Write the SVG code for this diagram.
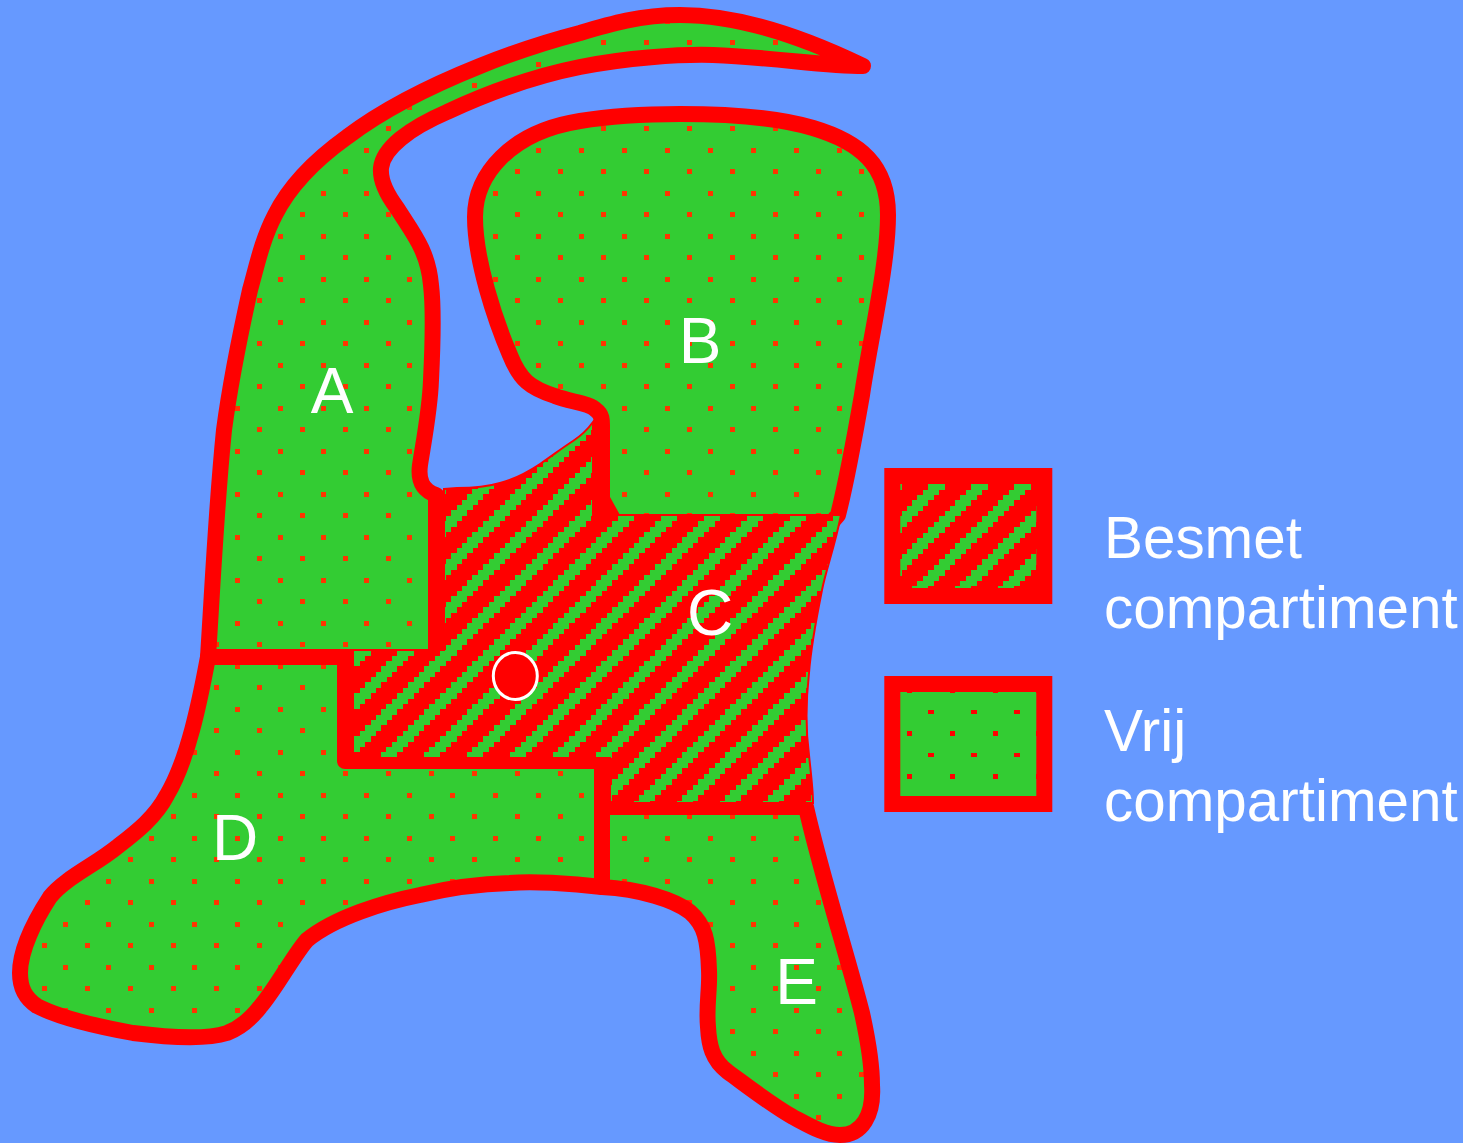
<svg xmlns="http://www.w3.org/2000/svg" width="1463" height="1143" viewBox="0 0 1463 1143">
<style>
.c{stroke:#f00;stroke-width:16;stroke-linejoin:round;stroke-linecap:round}
.v{fill:url(#dots)}
text{font-family:"Liberation Sans",Arial,sans-serif;font-size:58.4px;fill:#fff}
.m{text-anchor:middle;font-size:64px}
</style>
<defs>
<pattern id="dots" patternUnits="userSpaceOnUse" x="20" y="19" width="43" height="43">
<rect width="43" height="43" fill="#3c3"/>
<rect x="0" y="0" width="5" height="5" fill="#f30"/>
<rect x="22" y="21" width="5" height="5" fill="#f30"/>
</pattern>
<pattern id="dots2" patternUnits="userSpaceOnUse" x="4" y="0" width="43" height="43">
<rect width="43" height="43" fill="#3c3"/>
<rect x="0" y="0" width="5" height="5" fill="#f00"/>
<rect x="21" y="22" width="6" height="4" fill="#f00"/>
</pattern>
<g id="stripes">
<rect width="43" height="43" fill="#f00"/>
<g fill="#3c3">
<rect x="0" y="0" width="17" height="6"/>
<rect x="0" y="6" width="11" height="5"/><rect x="38" y="6" width="5" height="5"/>
<rect x="0" y="11" width="6" height="5"/><rect x="32" y="11" width="11" height="5"/>
<rect x="27" y="16" width="16" height="6"/>
<rect x="22" y="22" width="16" height="5"/>
<rect x="17" y="27" width="16" height="5"/>
<rect x="11" y="32" width="16" height="6"/>
<rect x="6" y="38" width="16" height="5"/>
</g>
</g>
<pattern id="hatch" patternUnits="userSpaceOnUse" x="25" y="11" width="43" height="43" shape-rendering="crispEdges"><use href="#stripes"/></pattern>
<pattern id="hatch2" patternUnits="userSpaceOnUse" x="10" y="5" width="43" height="43" shape-rendering="crispEdges"><use href="#stripes"/></pattern>
</defs>
<rect width="1463" height="1143" fill="#69f"/>
<g id="compartment-A">
<path class="c v" d="M863,66C830,50 755,15 680,15C640,15 610,24 580,33C545,42 510,54 480,66C425,88 380,112 347,137C315,160 290,185 275,215C262,240 257,265 250,290C240,335 230,385 224,430C216,510 213,580 208,657L436,657L436,495C422,490 418,480 420,465C423,445 430,410 431,380C433,340 434,310 431,285C428,250 412,232 397,208C385,192 380,180 381,168C383,148 410,128 447,112C490,92 535,76 580,67C625,58 680,54 713,55C770,57 825,66 863,66Z"/>
</g>
<g id="compartment-B">
<path class="c v" d="M602,522L602,430C602,422 603,415 596,410C590,403 570,402 555,396C530,388 520,380 510,355C495,320 475,260 475,217C475,175 510,132 580,121C610,116 650,114 680,114C730,114 780,118 813,128C860,142 888,165 888,215C888,265 870,340 862,395C855,435 847,480 838,515L832,522Z"/>
</g>
<g id="compartment-D">
<path class="c v" d="M208,657L345,657L345,761L602,761L602,887C570,883 530,881 510,883C475,884 445,889 420,895C385,902 335,917 307,940C295,953 275,990 260,1007C250,1020 240,1028 227,1033C205,1040 165,1037 133,1033C100,1027 60,1018 37,1006C25,998 20,988 20,973C20,950 35,920 50,897C65,878 95,865 117,847C135,833 155,818 167,795C188,760 200,700 208,657Z"/>
</g>
<g id="compartment-E">
<path class="c v" d="M806,807C820,870 850,965 862,1013C868,1040 872,1065 872,1085C874,1115 862,1135 840,1135C825,1135 810,1126 793,1117C770,1104 742,1082 728,1072C712,1060 709,1045 708,1027C706,1005 710,990 709,970C708,940 705,925 690,912C675,900 640,889 602,887L602,807Z"/>
</g>
<g id="compartment-C">
<path d="M610,497L620,515L610,515Z" fill="#f00"/>
<path fill="url(#hatch2)" stroke="#f00" stroke-width="2" d="M444,489L457,488C475,488 490,486 500,483C515,479 528,472 540,464C552,456 562,448 573,441C582,435 588,429 593,422L593,515L841,515C835,545 826,570 822,590C816,620 811,645 809,673C806,700 805,725 809,755C811,775 813,790 813,803L610,803L610,758L353,758L353,650L444,650Z"/>
</g>
<g id="marker">
<ellipse cx="515.3" cy="676" rx="22" ry="23.5" fill="#f00" stroke="#fff" stroke-width="3"/>
</g>
<g id="labels">
<text class="m" x="332" y="413">A</text>
<text class="m" x="700" y="363">B</text>
<text class="m" x="710" y="635">C</text>
<text class="m" x="235" y="860">D</text>
<text class="m" x="796.5" y="1004">E</text>
</g>
<g id="legend-besmet">
<rect fill="url(#hatch)" x="892.3" y="476" width="152" height="120" stroke="#f00" stroke-width="16"/>
<text x="1104" y="558">Besmet</text>
<text x="1104" y="628">compartiment</text>
</g>
<g id="legend-vrij">
<rect x="892.3" y="684" width="152" height="120" fill="url(#dots2)" stroke="#f00" stroke-width="16"/>
<text x="1104" y="751">Vrij</text>
<text x="1104" y="821">compartiment</text>
</g>
</svg>
